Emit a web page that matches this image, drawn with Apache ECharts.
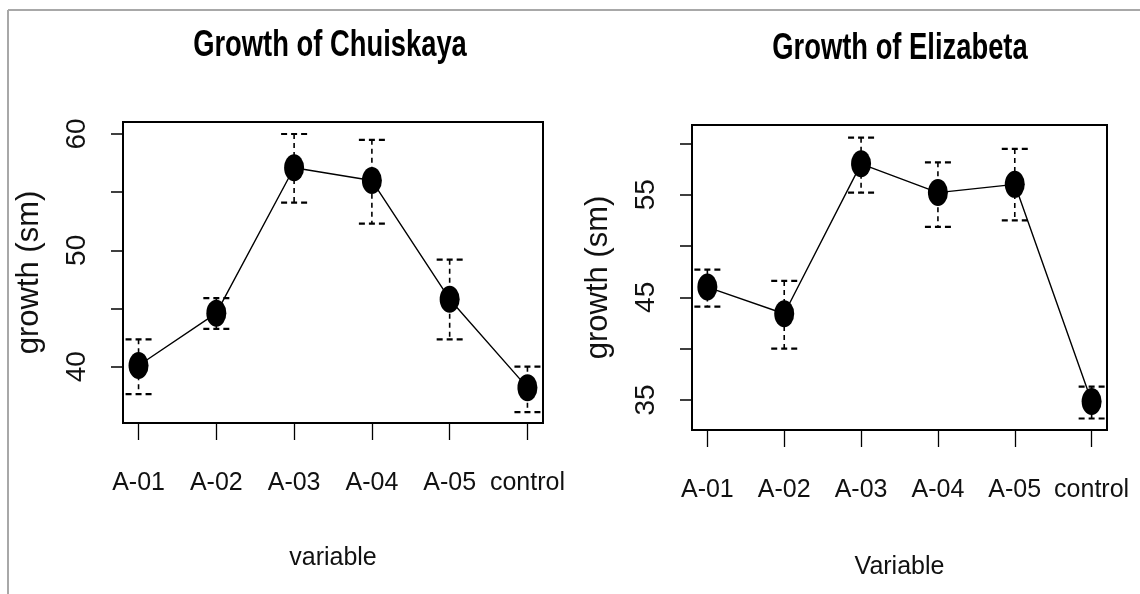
<!DOCTYPE html>
<html>
<head>
<meta charset="utf-8">
<script src="https://cdn.jsdelivr.net/npm/echarts@6/dist/echarts.min.js"></script>
<style>
html,body{margin:0;padding:0;background:#fff;}
#chart{width:1140px;height:594px;}
</style>
</head>
<body>
<div id="chart"></div>
<script>
var categories = ['A-01', 'A-02', 'A-03', 'A-04', 'A-05', 'control'];
var chuiskayaMean  = [40.1, 44.6, 57.1, 56.0, 45.8, 38.2];
var chuiskayaUpper = [42.35, 45.9, 60.0, 59.5, 49.2, 40.0];
var chuiskayaLower = [37.65, 43.25, 54.1, 52.3, 42.35, 36.1];
var elizabetaMean  = [46.0, 43.4, 58.0, 55.2, 56.0, 34.85];
var elizabetaUpper = [47.7, 46.6, 60.55, 58.15, 59.45, 36.3];
var elizabetaLower = [44.1, 40.0, 55.2, 51.85, 52.5, 33.2];
var leftYTicks = [40, 45, 50, 55, 60];
var leftYLabels = [40, 50, 60];
var rightYTicks = [35, 40, 45, 50, 55, 60];
var rightYLabels = [35, 45, 55];
var xPositions = [1, 2, 3, 4, 5, 6];
var titles = ['Growth of Chuiskaya', 'Growth of Elizabeta'];
var xNames = ['variable', 'Variable'];
var yName = 'growth (sm)';

var normal = '"Liberation Sans", Arial, sans-serif';
var ellipse = 'path://M0,-1 A1,1 0 1,1 0,1 A1,1 0 1,1 0,-1 Z';

function pts(means) { return means.map(function (v, i) { return [xPositions[i], v]; }); }
function bars(lo, hi) { return lo.map(function (v, i) { return [xPositions[i], v, hi[i]]; }); }

function errRender(params, api) {
  var x = api.value(0);
  var lo = api.coord([x, api.value(1)]);
  var hi = api.coord([x, api.value(2)]);
  var hw = 13;
  var st = { stroke: '#000', lineWidth: 1.6, lineDash: [5, 4] };
  var cap = { stroke: '#000', lineWidth: 2.2, lineDash: [6, 4] };
  return {
    type: 'group',
    children: [
      { type: 'line', shape: { x1: hi[0], y1: hi[1], x2: lo[0], y2: lo[1] }, style: st },
      { type: 'line', shape: { x1: hi[0] - hw, y1: hi[1], x2: hi[0] + hw, y2: hi[1] }, style: cap },
      { type: 'line', shape: { x1: lo[0] - hw, y1: lo[1], x2: lo[0] + hw, y2: lo[1] }, style: cap }
    ]
  };
}

function xAxis(idx, nameText, nameGap) {
  return {
    type: 'value', gridIndex: idx, min: 0.8, max: 6.2,
    name: nameText, nameLocation: 'middle', nameGap: nameGap,
    nameTextStyle: { fontFamily: normal, fontSize: 25, color: '#111' },
    axisLine: { show: true, onZero: false, lineStyle: { color: '#000', width: 2 } },
    axisTick: { show: true, length: 17, customValues: xPositions, lineStyle: { color: '#000', width: 1.3 } },
    axisLabel: { show: true, margin: 48, customValues: xPositions, fontFamily: normal, fontSize: 25, color: '#111',
      formatter: function (v) { return categories[Math.round(v) - 1]; } },
    splitLine: { show: false }
  };
}
function yAxis(idx, mn, mx, ticks, labels, nameGap) {
  return {
    type: 'value', gridIndex: idx, min: mn, max: mx,
    name: yName, nameLocation: 'middle', nameGap: nameGap,
    nameTextStyle: { fontFamily: normal, fontSize: 31, color: '#111' },
    axisLine: { show: true, lineStyle: { color: '#000', width: 2 } },
    axisTick: { show: true, length: 12, customValues: ticks, lineStyle: { color: '#000', width: 1.5 } },
    axisLabel: { show: true, rotate: 90, margin: 32, customValues: labels, fontFamily: normal, fontSize: 28, color: '#111' },
    splitLine: { show: false }
  };
}
function titleText(txt, cx, cy) {
  return { type: 'text', x: cx, y: cy, scaleX: 0.76, z: 10,
    style: { text: txt, fontFamily: normal, fontWeight: 'bold', fontSize: 36, fill: '#000',
      textAlign: 'center', textVerticalAlign: 'middle' } };
}

var chart = echarts.init(document.getElementById('chart'), null, { renderer: 'canvas' });
chart.setOption({
  backgroundColor: '#fff',
  animation: false,
  graphic: [
    { type: 'line', shape: { x1: 8, y1: 10, x2: 1140, y2: 10 }, style: { stroke: '#a8a8a8', lineWidth: 2 } },
    { type: 'line', shape: { x1: 8, y1: 10, x2: 8, y2: 594 }, style: { stroke: '#a8a8a8', lineWidth: 2 } },
    titleText(titles[0], 330, 46),
    titleText(titles[1], 900, 49)
  ],
  grid: [
    { left: 123, top: 122, width: 420, height: 301, show: true, borderColor: '#000', borderWidth: 2, backgroundColor: 'transparent' },
    { left: 692, top: 125, width: 415, height: 305, show: true, borderColor: '#000', borderWidth: 2, backgroundColor: 'transparent' }
  ],
  xAxis: [xAxis(0, xNames[0], 123), xAxis(1, xNames[1], 125)],
  yAxis: [yAxis(0, 35.16, 61.03, leftYTicks, leftYLabels, 78), yAxis(1, 32.08, 61.78, rightYTicks, rightYLabels, 78)],
  series: [
    { type: 'custom', xAxisIndex: 0, yAxisIndex: 0, data: bars(chuiskayaLower, chuiskayaUpper), renderItem: errRender, z: 2 },
    { type: 'line', xAxisIndex: 0, yAxisIndex: 0, data: pts(chuiskayaMean), symbol: ellipse, symbolSize: [20, 27],
      itemStyle: { color: '#000' }, lineStyle: { color: '#000', width: 1.4 }, z: 3 },
    { type: 'custom', xAxisIndex: 1, yAxisIndex: 1, data: bars(elizabetaLower, elizabetaUpper), renderItem: errRender, z: 2 },
    { type: 'line', xAxisIndex: 1, yAxisIndex: 1, data: pts(elizabetaMean), symbol: ellipse, symbolSize: [20, 27],
      itemStyle: { color: '#000' }, lineStyle: { color: '#000', width: 1.4 }, z: 3 }
  ]
});
</script>
</body>
</html>
